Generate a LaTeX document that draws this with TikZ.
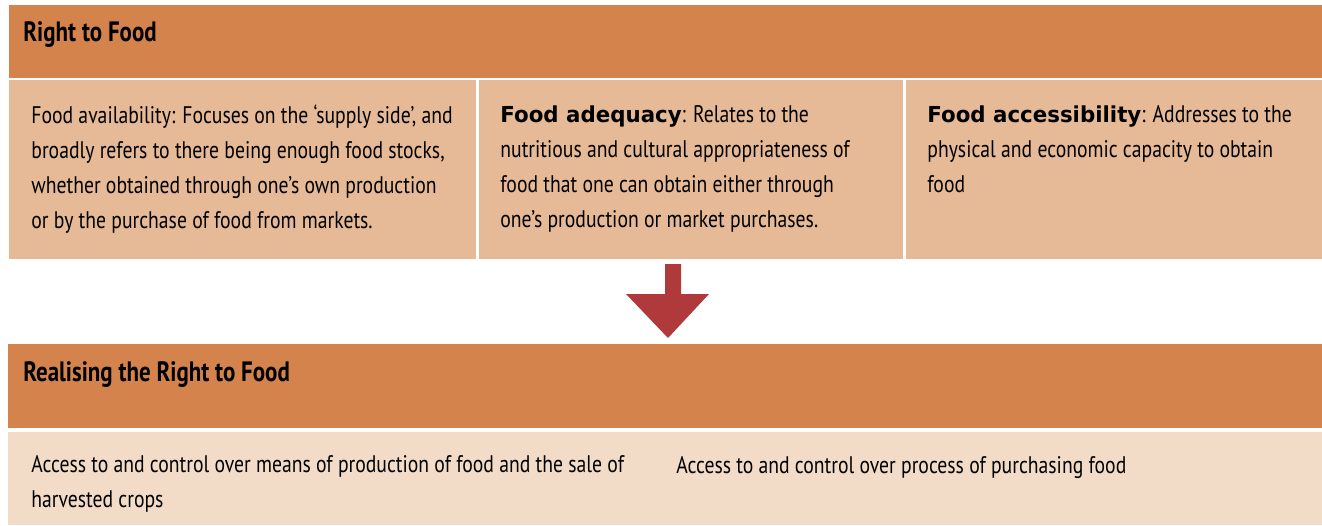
\documentclass[tikz,border=0pt]{standalone}
\usepackage{fontspec}
\setmainfont{PT Sans}[FakeStretch=0.82]
\newfontfamily\keyfont{DejaVu Sans}[FakeStretch=0.97]
\usetikzlibrary{positioning}

\definecolor{headorange}{HTML}{D4834C}
\definecolor{cellmid}{HTML}{E6B997}
\definecolor{celllight}{HTML}{F2DCC8}
\definecolor{arrowred}{HTML}{B0393B}

\newcommand{\keyword}[1]{{\keyfont\bfseries\fontsize{11}{17.5}\selectfont #1}}

\tikzset{
  cell/.style={draw=none, inner sep=0pt, anchor=north west},
  headcell/.style={cell, fill=headorange},
  midcell/.style={cell, fill=cellmid},
  lightcell/.style={cell, fill=celllight},
  headtext/.style={anchor=base west, inner sep=0pt, font=\fontsize{14}{17}\selectfont\bfseries},
  % base anchor sits on the last line
  celltext/.style={anchor=base west, inner sep=0pt, align=left, font=\fontsize{12}{17.5}\selectfont},
}

\begin{document}
\begin{tikzpicture}[x=0.5pt, y=-0.5pt]
    \useasboundingbox (0,0) rectangle (1322,525);

    % upper block
    \node[headcell, minimum width=656.5pt, minimum height=36.5pt] (head1) at (9,5) {};
    \node[midcell, minimum width=233.5pt, minimum height=89.5pt] (avail) at (9,80) {};
    \node[midcell, minimum width=212pt, minimum height=89.5pt] (adeq) at (479,80) {};
    \node[midcell, minimum width=208pt, minimum height=89.5pt] (access) at (906,80) {};

    \node[headtext] (head1txt) at (23,41) {Right to Food};
    \node[celltext] (availtxt) at (31,228) {Food availability: Focuses on the `supply side', and\\
        broadly refers to there being enough food stocks,\\
        whether obtained through one's own production\\
        or by the purchase of food from markets.};
    \node[celltext] (adeqtxt) at (500,227) {\keyword{Food adequacy}: Relates to the\\
        nutritious and cultural appropriateness of\\
        food that one can obtain either through\\
        one's production or market purchases.};
    \node[celltext] (accesstxt) at (927,192) {\keyword{Food accessibility}: Addresses to the\\
        physical and economic capacity to obtain\\
        food};

    % block arrow
    \fill[arrowred] (665,264) -- (681,264) -- (681,294) -- (709,294) -- (668,338)
        -- (626,294) -- (665,294) -- cycle;

    % lower block
    \node[headcell, minimum width=657pt, minimum height=42pt] (head2) at (8,344) {};
    \node[lightcell, minimum width=322.5pt, minimum height=46.5pt] (prod) at (8,432) {};
    \node[lightcell, minimum width=334.5pt, minimum height=46.5pt] (purch) at (653,432) {};

    \node[headtext] (head2txt) at (23,381) {Realising the Right to Food};
    \node[celltext] (prodtxt) at (31,507) {Access to and control over means of production of food and the sale of\\
        harvested crops};
    \node[celltext] (purchtxt) at (676,473) {Access to and control over process of purchasing food};
\end{tikzpicture}
\end{document}
